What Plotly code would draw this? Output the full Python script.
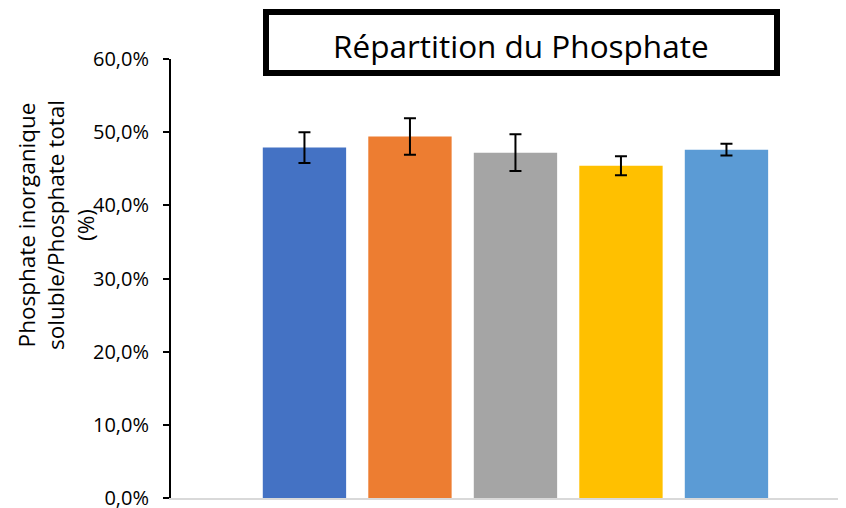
import plotly.graph_objects as go

categories = ["1", "2", "3", "4", "5"]
values = [47.9, 49.4, 47.2, 45.4, 47.6]
errors = [2.1, 2.5, 2.5, 1.3, 0.8]
colors = ["#4472C4", "#ED7D31", "#A5A5A5", "#FFC000", "#5B9BD5"]
tick_vals = [0, 10, 20, 30, 40, 50, 60]
tick_text = ["0,0%", "10,0%", "20,0%", "30,0%", "40,0%", "50,0%", "60,0%"]

FONT = "Open Sans"

# The page body has an 8px margin, so the figure is drawn 8px smaller.
W, H = 838, 500
L, R, T, B = 163, 0, 51, 10
PW, PH = W - L - R, H - T - B


def px(x):
    return (x - L) / PW


def py(y):
    return (H - B - y) / PH


fig = go.Figure()
fig.add_trace(go.Bar(
    x=categories, y=values,
    marker=dict(color=colors, line=dict(width=0)),
    width=0.79,
    error_y=dict(type="data", array=errors, visible=True,
                 color="black", thickness=2, width=6),
    showlegend=False,
))

fig.update_layout(
    width=W, height=H,
    margin=dict(l=L, r=R, t=T, b=B, autoexpand=False),
    paper_bgcolor="white", plot_bgcolor="white",
    font=dict(family=FONT, color="black"),
    xaxis=dict(
        type="category", range=[-1.265, 5.133],
        showticklabels=False, ticks="", showgrid=False, zeroline=False,
        showline=True, linecolor="#d9d9d9", linewidth=1.5,
    ),
    yaxis=dict(
        range=[0, 60], tickmode="array", tickvals=tick_vals, ticktext=tick_text,
        showgrid=False, zeroline=False,
        showline=True, linecolor="black", linewidth=2,
        ticks="outside", ticklen=6, tickwidth=2, tickcolor="black",
        tickfont=dict(family=FONT, size=20, color="black"),
        ticklabelstandoff=10, ticklabeloverflow="allow",
        automargin=False,
    ),
)

# Y axis title (three lines)
fig.add_annotation(
    xref="paper", yref="paper", x=px(48), y=py(217),
    xanchor="center", yanchor="middle",
    text="Phosphate inorganique<br>soluble/Phosphate total<br>(%)",
    textangle=-90, showarrow=False,
    font=dict(family=FONT, size=22.5, color="black"),
)

# Boxed title
fig.add_shape(
    type="rect", xref="paper", yref="paper",
    x0=px(258), x1=px(769), y0=py(65), y1=py(4),
    line=dict(color="black", width=6), fillcolor="white",
)
fig.add_annotation(
    xref="paper", yref="paper", x=px(513), y=py(37),
    xanchor="center", yanchor="middle",
    text="Répartition du Phosphate", showarrow=False,
    font=dict(family=FONT, size=31.5, color="black"),
)

fig.write_html("out.html")
